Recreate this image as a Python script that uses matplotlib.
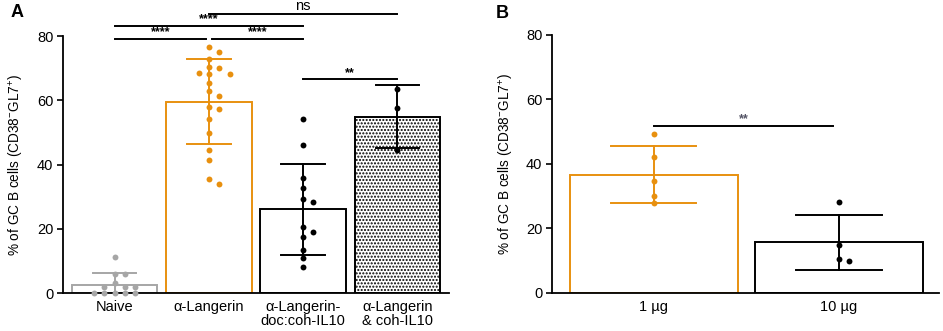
import matplotlib.pyplot as plt
import numpy as np

plt.rcParams['font.family'] = ['Liberation Sans', 'DejaVu Sans']
plt.rcParams['mathtext.fontset'] = 'custom'
plt.rcParams['mathtext.rm'] = 'Liberation Sans'
plt.rcParams['mathtext.it'] = 'Liberation Sans:italic'
plt.rcParams['mathtext.bf'] = 'Liberation Sans:bold'
plt.rcParams['hatch.linewidth'] = 1.0

ORANGE = "#E8900F"
GREY = "#A6A6A6"
BLACK = "#000000"

# panel A
a_groups = ["Naive", "α-Langerin", "α-Langerin-\ndoc:coh-IL10", "α-Langerin\n& coh-IL10"]
a_means = [2.4, 59.5, 26.1, 54.9]
a_sd = [3.7, 13.2, 14.2, 9.7]
a_points = [
    [11.1, 5.9, 5.9, 3.2, 2.0, 2.0, 2.0, 0.1, 0.1, 0.1, 0.1, 0.1],
    [76.5, 74.9, 72.8, 70.2, 70.0, 68.6, 68.2, 68.2, 65.5, 62.9, 61.4, 58.0,
     57.2, 54.1, 49.9, 44.5, 41.4, 35.4, 34.0],
    [54.1, 46.0, 35.7, 32.7, 29.3, 28.3, 20.7, 19.1, 17.4, 13.4, 10.9, 8.2],
    [63.6, 57.7, 44.5],
]
a_colors = [GREY, ORANGE, BLACK, BLACK]
a_hatch = [None, None, None, "....."]
# (group i, group j, level, label)
a_sig = [(1, 3, 87.0, "ns"), (0, 2, 83.1, "****"), (0, 1, 79.1, "****"),
         (1, 2, 79.1, "****"), (2, 3, 66.5, "**")]

# panel B
b_groups = ["1 µg", "10 µg"]
b_means = [36.6, 15.6]
b_sd = [8.9, 8.6]
b_points = [[49.3, 42.2, 34.6, 30.0, 27.7], [28.2, 14.9, 10.5, 9.9]]
b_colors = [ORANGE, BLACK]
b_hatch = [None, None]
b_sig = [(0, 1, 51.8, "**")]

YLABEL = r"% of GC B cells (CD38$^{\mathrm{-}}$GL7$^{\mathrm{+}}$)"


def swarm(ax, x0, vals, step, min_px):
    # simple beeswarm: put each point in the nearest free column
    placed = []
    xs = []
    for v in sorted(vals, reverse=True):
        for k in [0, 1, -1, 2, -2, 3, -3]:
            x = x0 + k * step
            px = ax.transData.transform((x, v))
            ok = all(np.hypot(*(px - q)) >= min_px for q in placed)
            if ok:
                placed.append(px)
                xs.append((x, v))
                break
    return np.array(xs)


def panel(ax, groups, means, sd, points, colors, hatches, sig, xmax, step, sig_color):
    x = np.arange(len(groups))
    ax.set_xlim(-0.55, xmax)
    ax.set_ylim(0, 80)
    for i in x:
        ax.bar(i, means[i], width=0.905, facecolor="white", edgecolor=colors[i],
               linewidth=1.4, hatch=hatches[i], zorder=1)
    fig.canvas.draw()
    for i in x:
        lo = means[i] - sd[i]
        hi = means[i] + sd[i]
        ax.plot([i, i], [max(lo, 0), hi], color=colors[i], lw=1.4, zorder=3)
        for y in (lo, hi):
            if y > 0:
                ax.plot([i - 0.23, i + 0.23], [y, y], color=colors[i], lw=1.4, zorder=3)
        pts = swarm(ax, i, points[i], step, 6.0)
        ax.scatter(pts[:, 0], pts[:, 1], s=18, color=colors[i], zorder=4,
                   clip_on=False, linewidths=0)
    for i, j, lvl, lab in sig:
        gap = 0.03 if lvl < 80 and (i, j) in [(0, 1), (1, 2)] else 0.0
        x1 = i + (gap if i == 1 else 0)
        x2 = j - (gap if j == 1 else 0)
        ax.plot([x1, x2], [lvl, lvl], color="black", lw=1.4, clip_on=False)
        if lab == "ns":
            ax.text((x1 + x2) / 2, lvl + 0.3, lab, ha="center", va="bottom",
                    fontsize=10.5, color="black")
        else:
            ax.text((x1 + x2) / 2, lvl + 0.2, lab, ha="center", va="bottom",
                    fontsize=9, color=sig_color, fontweight="bold")
    ax.set_xticks(x)
    ax.set_xticklabels(groups, fontsize=10.5, linespacing=1.05)
    ax.tick_params(axis="x", length=0, pad=5)
    ax.set_yticks([0, 20, 40, 60, 80])
    ax.tick_params(axis="y", labelsize=10.5, length=4, width=1.2, pad=3)
    ax.spines["top"].set_visible(False)
    ax.spines["right"].set_visible(False)
    for s in ("left", "bottom"):
        ax.spines[s].set_linewidth(1.3)
    ax.set_ylabel(YLABEL, fontsize=9.8)


fig = plt.figure(figsize=(9.43, 3.31), dpi=100)
axA = fig.add_axes([0.0668, 0.1148, 0.4094, 0.7764])
axB = fig.add_axes([0.5854, 0.1157, 0.4104, 0.7795])

panel(axA, a_groups, a_means, a_sd, a_points, a_colors, a_hatch, a_sig, 3.55, 0.11,
      "black")
panel(axB, b_groups, b_means, b_sd, b_points, b_colors, b_hatch, b_sig, 1.54, 0.056,
      "#555566")

axA.yaxis.set_label_coords(-0.095, 0.5)
axB.yaxis.set_label_coords(-0.092, 0.5)

fig.text(0.011, 0.962, "A", fontsize=13, fontweight="bold", va="center")
fig.text(0.526, 0.958, "B", fontsize=13, fontweight="bold", va="center")

fig.savefig("out.png", dpi=100)
